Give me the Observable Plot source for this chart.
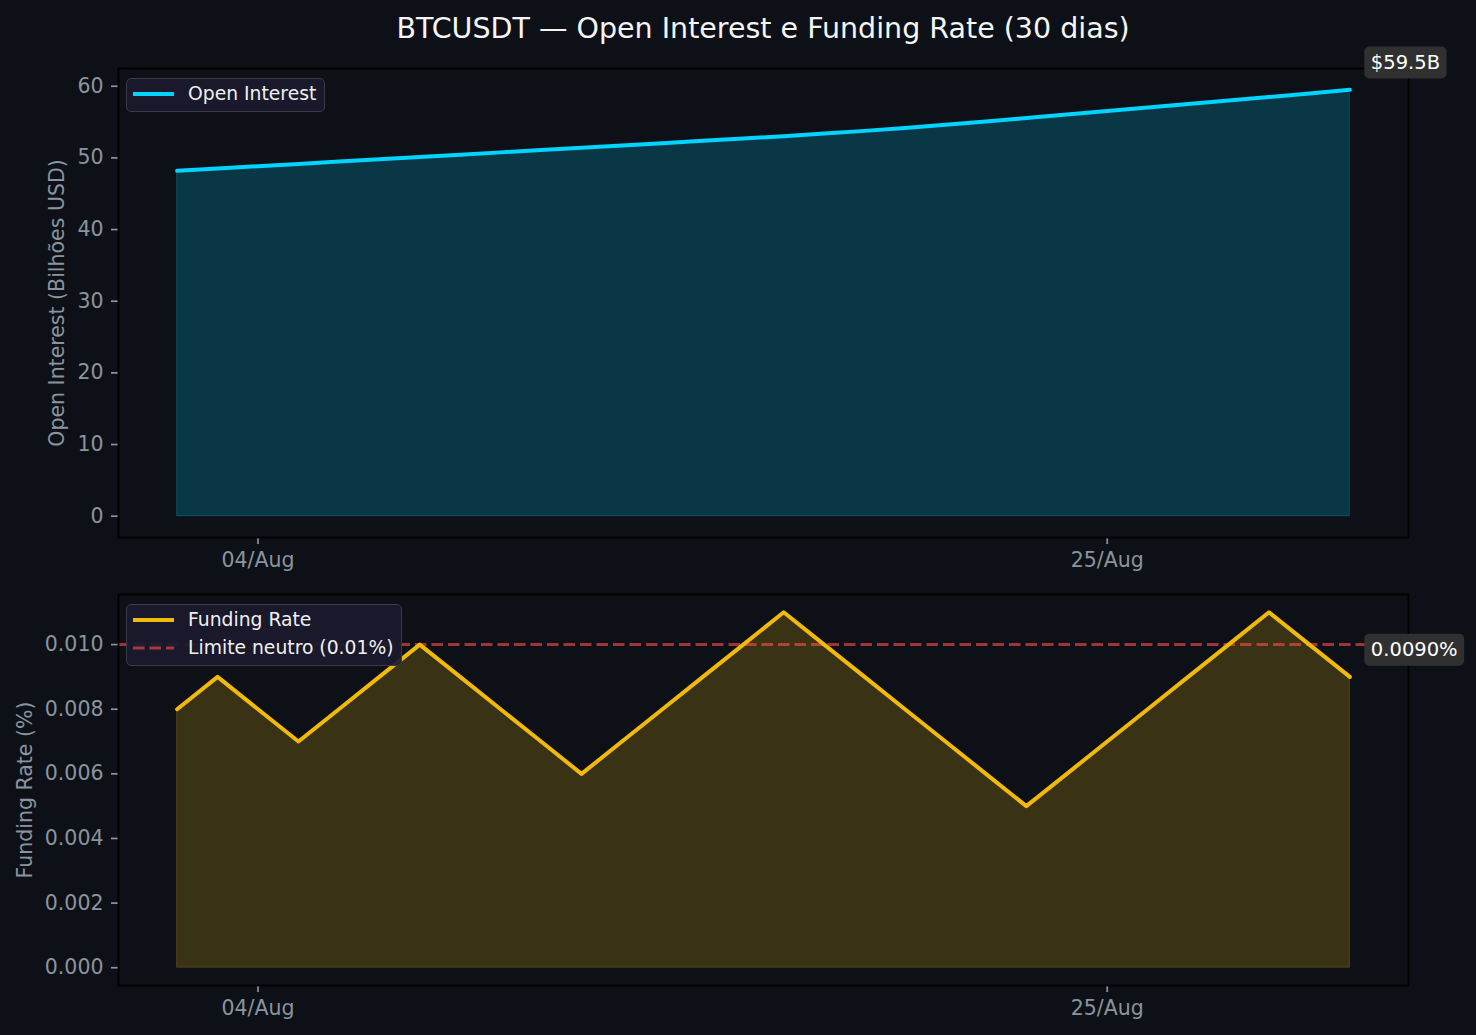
<!DOCTYPE html>
<html><head><meta charset="utf-8">
<script src="https://cdn.jsdelivr.net/npm/d3@7"></script>
<script src="https://cdn.jsdelivr.net/npm/@observablehq/plot@0.6"></script>
<style>
html,body{margin:0;padding:0;background:#0d1117;}
#root{position:relative;width:1476px;height:1035px;background:#0d1117;font-family:"DejaVu Sans",sans-serif;overflow:hidden;}
.title{position:absolute;left:118px;width:1290px;top:10px;text-align:center;font-size:28.5px;color:#f5f5f5;line-height:38px;white-space:nowrap;}
.panel{position:absolute;left:0;}
.legend{position:absolute;background:rgba(26,26,46,0.92);border:1.5px solid #3a3a44;border-radius:5px;box-sizing:border-box;font-size:18.75px;color:#f0f0f0;}
.legend .sample{position:absolute;left:6px;width:42px;height:10px;}
.legend .lab{position:absolute;left:61px;height:24px;line-height:24px;white-space:nowrap;}
</style></head><body><div id="root"></div>
<script>
const dates = ["2025-08-02","2025-08-03","2025-08-04","2025-08-05","2025-08-06","2025-08-07","2025-08-08","2025-08-09","2025-08-10","2025-08-11",
  "2025-08-12","2025-08-13","2025-08-14","2025-08-15","2025-08-16","2025-08-17","2025-08-18","2025-08-19","2025-08-20","2025-08-21",
  "2025-08-22","2025-08-23","2025-08-24","2025-08-25","2025-08-26","2025-08-27","2025-08-28","2025-08-29","2025-08-30","2025-08-31"];
const openInterest = [48.20, 48.52, 48.84, 49.16, 49.49, 49.81, 50.13, 50.45, 50.77, 51.10,
  51.42, 51.74, 52.06, 52.38, 52.71, 53.03, 53.39, 53.77, 54.18, 54.61,
  55.07, 55.56, 56.05, 56.54, 57.03, 57.52, 58.01, 58.50, 58.98, 59.50];
const fundingRate = [0.008, 0.009, 0.008, 0.007, 0.008, 0.009, 0.010, 0.009, 0.008, 0.007,
  0.006, 0.007, 0.008, 0.009, 0.010, 0.011, 0.010, 0.009, 0.008, 0.007,
  0.006, 0.005, 0.006, 0.007, 0.008, 0.009, 0.010, 0.011, 0.010, 0.009];
const xTickDates = ["2025-08-04", "2025-08-25"];
const oiTicks = [0, 10, 20, 30, 40, 50, 60];
const frTicks = [0, 0.002, 0.004, 0.006, 0.008, 0.010];
const neutralLimit = 0.01;
const titleText = "BTCUSDT — Open Interest e Funding Rate (30 dias)";

const AX = "#8b949e";
const CYAN = "#00d4ff", GOLD = "#f0b90b", RED = "#ff4d4d";

const oiData = dates.map((d, i) => ({date: new Date(d), v: openInterest[i]}));
const frData = dates.map((d, i) => ({date: new Date(d), v: fundingRate[i]}));
const xt = xTickDates.map(d => new Date(d));

const t0 = oiData[0].date.getTime(), t1 = oiData[oiData.length - 1].date.getTime();
const xPad = (t1 - t0) * 0.05;
const xDomain = [new Date(t0 - xPad), new Date(t1 + xPad)];
function padded(lo, hi) { const p = (hi - lo) * 0.05; return [lo - p, hi + p]; }

const root = document.getElementById("root");
const titleDiv = document.createElement("div");
titleDiv.className = "title"; titleDiv.textContent = titleText;
root.appendChild(titleDiv);

const plotStyle = {background: "transparent", color: AX, fontFamily: "DejaVu Sans, sans-serif", fontSize: "20.5px", overflow: "visible"};

const topPlot = Plot.plot({
  width: 1476, height: 545,
  marginLeft: 118, marginRight: 68, marginTop: 28, marginBottom: 48,
  style: plotStyle,
  x: {type: "utc", domain: xDomain},
  y: {domain: padded(0, d3.max(openInterest))},
  marks: [
    Plot.areaY(oiData, {x: "date", y: "v", fill: CYAN, fillOpacity: 0.2, stroke: CYAN, strokeOpacity: 0.2, strokeWidth: 1.2}),
    Plot.line(oiData, {x: "date", y: "v", stroke: CYAN, strokeWidth: 4}),
    Plot.axisX({ticks: xt, tickFormat: d3.utcFormat("%d/%b"), tickSize: 7, tickPadding: 8, strokeWidth: 1.7, label: null}),
    Plot.axisY({ticks: oiTicks, tickSize: 7, tickPadding: 8, strokeWidth: 1.7, label: "Open Interest (Bilhões USD)",
      labelAnchor: "center", labelOffset: 69, labelArrow: "none"}),
    Plot.frame({stroke: "#000000", strokeWidth: 1.8}),
    Plot.text([oiData[oiData.length - 1]], {x: "date", y: "v", text: d => "$" + d3.format(".1f")(d.v) + "B",
      dx: 21, dy: -27, textAnchor: "start", lineAnchor: "middle", fill: "#ffffff", fontSize: 19.5})
  ]
});
topPlot.classList.add("panel"); topPlot.style.top = "40px";
root.appendChild(topPlot);

const bottomPlot = Plot.plot({
  width: 1476, height: 450,
  marginLeft: 118, marginRight: 68, marginTop: 9, marginBottom: 50,
  style: plotStyle,
  x: {type: "utc", domain: xDomain},
  y: {domain: padded(0, d3.max(fundingRate))},
  marks: [
    Plot.areaY(frData, {x: "date", y: "v", fill: GOLD, fillOpacity: 0.2, stroke: GOLD, strokeOpacity: 0.2, strokeWidth: 1.2}),
    Plot.ruleY([neutralLimit], {stroke: RED, strokeOpacity: 0.6, strokeWidth: 3, strokeDasharray: "11.5,5"}),
    Plot.line(frData, {x: "date", y: "v", stroke: GOLD, strokeWidth: 4}),
    Plot.axisX({ticks: xt, tickFormat: d3.utcFormat("%d/%b"), tickSize: 7, tickPadding: 8, strokeWidth: 1.7, label: null}),
    Plot.axisY({ticks: frTicks, tickFormat: d3.format(".3f"), tickSize: 7, tickPadding: 8, strokeWidth: 1.7, label: "Funding Rate (%)",
      labelAnchor: "center", labelOffset: 101, labelArrow: "none"}),
    Plot.frame({stroke: "#000000", strokeWidth: 1.8}),
    Plot.text([frData[frData.length - 1]], {x: "date", y: "v", text: d => d.v.toFixed(4) + "%",
      dx: 21, dy: -27, textAnchor: "start", lineAnchor: "middle", fill: "#ffffff", fontSize: 19.5})
  ]
});
bottomPlot.classList.add("panel"); bottomPlot.style.top = "585px";
root.appendChild(bottomPlot);

function boxLabels(svg) {
  svg.querySelectorAll('g[aria-label="text"] text').forEach(t => {
    const bb = t.getBBox();
    const r = document.createElementNS("http://www.w3.org/2000/svg", "rect");
    r.setAttribute("x", bb.x - 6.5); r.setAttribute("y", bb.y - 4.5);
    r.setAttribute("width", bb.width + 13); r.setAttribute("height", bb.height + 9);
    r.setAttribute("rx", 5); r.setAttribute("fill", "#333333"); r.setAttribute("fill-opacity", 0.95);
    if (t.getAttribute("transform")) r.setAttribute("transform", t.getAttribute("transform"));
    t.parentNode.insertBefore(r, t);
  });
}
boxLabels(topPlot); boxLabels(bottomPlot);

function legend(left, topPx, width, height, items) {
  const L = document.createElement("div");
  L.className = "legend";
  Object.assign(L.style, {left: left + "px", top: topPx + "px", width: width + "px", height: height + "px"});
  items.forEach(it => {
    const s = document.createElementNS("http://www.w3.org/2000/svg", "svg");
    s.setAttribute("class", "sample");
    s.style.top = (it.cy - 5) + "px";
    s.innerHTML = `<line x1="0" x2="41" y1="5" y2="5" stroke="${it.color}" stroke-width="${it.w}" stroke-opacity="${it.op}" ${it.dash ? `stroke-dasharray="${it.dash}"` : ""}/>`;
    L.appendChild(s);
    const t = document.createElement("div");
    t.className = "lab"; t.style.top = (it.cy - 12) + "px"; t.textContent = it.label;
    L.appendChild(t);
  });
  root.appendChild(L);
}
legend(126, 78, 199, 34, [{label: "Open Interest", color: CYAN, w: 4, op: 1, cy: 14.5}]);
legend(126, 604, 276, 62, [
  {label: "Funding Rate", color: GOLD, w: 4, op: 1, cy: 14.5},
  {label: "Limite neutro (0.01%)", color: RED, w: 3, op: 0.6, dash: "11.5,5", cy: 42.5}
]);
</script></body></html>
